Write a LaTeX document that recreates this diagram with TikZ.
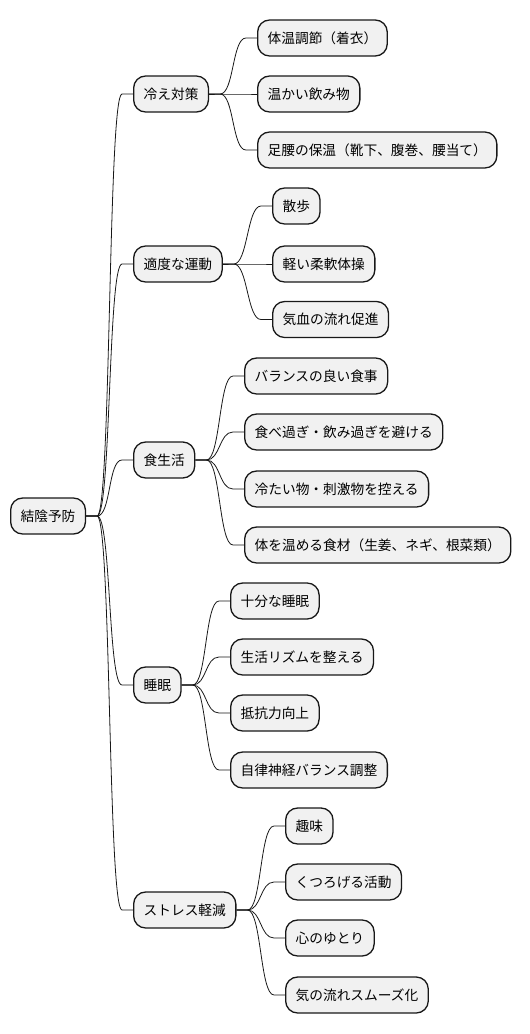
\documentclass[tikz,border=0pt]{standalone}
\usepackage{fontspec}
\setmainfont{Noto Sans CJK JP}
\usepackage{xcolor}
\usetikzlibrary{positioning}
\definecolor{boxfill}{HTML}{F1F1F1}
\definecolor{boxline}{HTML}{181818}
\tikzset{
  topic/.style={draw=boxline,fill=boxfill,line width=1.3pt,rounded corners=12pt,
    minimum height=36pt,inner xsep=10pt,anchor=west,font=\fontsize{13.7}{16}\selectfont},
  branch/.style={draw=boxline,line width=0.8pt}
}
% connector: parent -> child
\newcommand{\ramo}[2]{\draw[branch] (#1.east) -- ++(11,0) .. controls +(14,0) and +(-14,0) .. ([xshift=-11pt]#2.west) -- (#2.west);}

\begin{document}
\begin{tikzpicture}[x=1pt,y=-1pt]
  \useasboundingbox (0,0) rectangle (530,1034);
  \node[topic] (root) at (10,516) {結陰予防};
  % first level
  \node[topic] (cold)   at (133,94)  {冷え対策};
  \node[topic] (move)   at (133,264) {適度な運動};
  \node[topic] (diet)   at (133,460) {食生活};
  \node[topic] (sleep)  at (133,685) {睡眠};
  \node[topic] (stress) at (133,910) {ストレス軽減};
  \foreach \p in {cold,move,diet,sleep,stress} {\ramo{root}{\p}}
  % second level
  \foreach \n/\y/\t in {c1/38/{体温調節（着衣）},c2/94/{温かい飲み物},c3/150/{足腰の保温（靴下、腹巻、腰当て）}}
    {\node[topic] (\n) at (257,\y) {\t}; \ramo{cold}{\n}}
  \foreach \n/\y/\t in {m1/206/{散歩},m2/264/{軽い柔軟体操},m3/319.5/{気血の流れ促進}}
    {\node[topic] (\n) at (272,\y) {\t}; \ramo{move}{\n}}
  \foreach \n/\y/\t in {d1/376/{バランスの良い食事},d2/432/{食べ過ぎ・飲み過ぎを避ける},d3/489/{冷たい物・刺激物を控える},d4/545/{体を温める食材（生姜、ネギ、根菜類）}}
    {\node[topic] (\n) at (244,\y) {\t}; \ramo{diet}{\n}}
  \foreach \n/\y/\t in {s1/601/{十分な睡眠},s2/657/{生活リズムを整える},s3/713/{抵抗力向上},s4/770/{自律神経バランス調整}}
    {\node[topic] (\n) at (230,\y) {\t}; \ramo{sleep}{\n}}
  \foreach \n/\y/\t in {r1/826/{趣味},r2/882/{くつろげる活動},r3/938/{心のゆとり},r4/995/{気の流れスムーズ化}}
    {\node[topic] (\n) at (285,\y) {\t}; \ramo{stress}{\n}}
\end{tikzpicture}
\end{document}
